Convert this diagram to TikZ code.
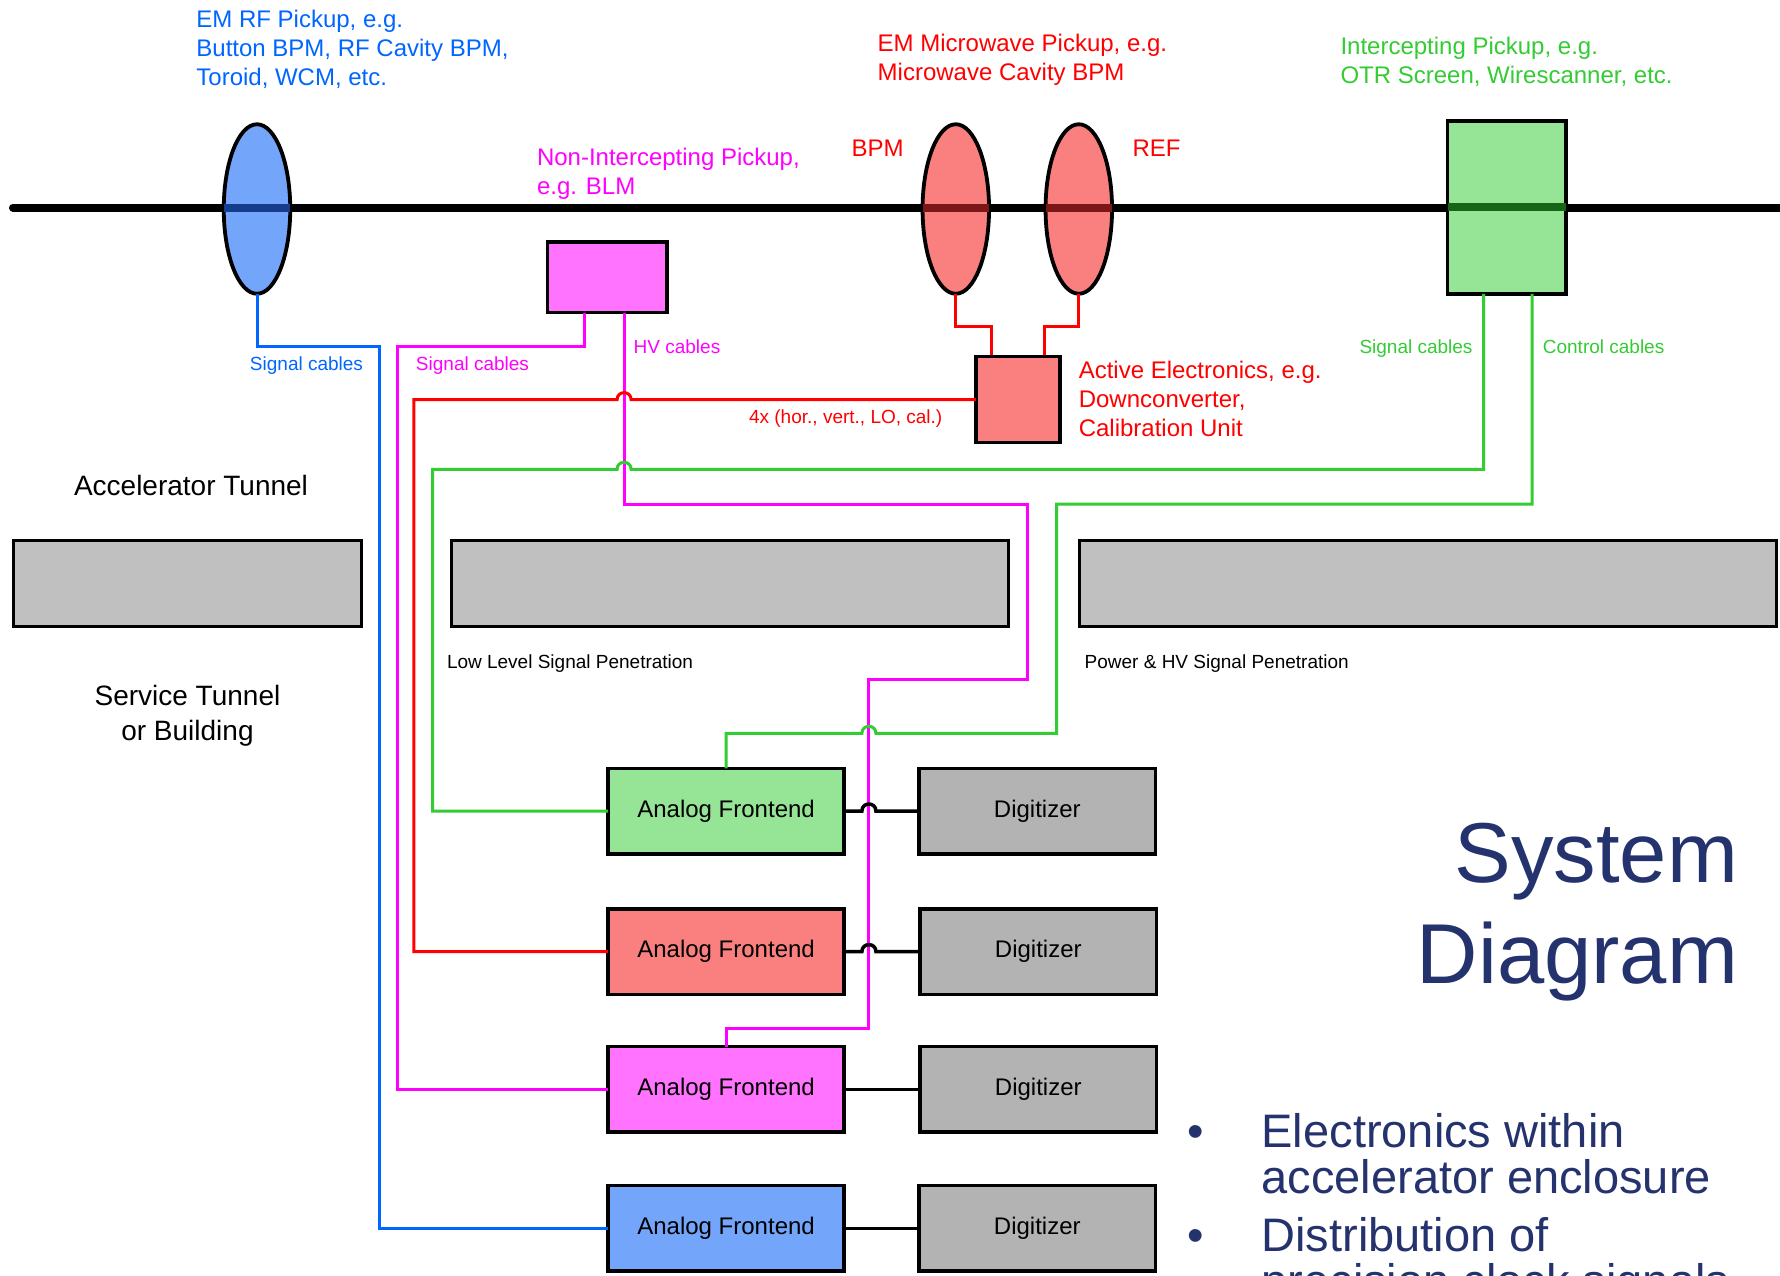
\documentclass[tikz,border=0pt]{standalone}
\usepackage{fontspec}
\setmainfont{Liberation Sans}
\usetikzlibrary{shapes.geometric}
\definecolor{cblue}{RGB}{0,102,255}
\definecolor{cred}{RGB}{255,0,0}
\definecolor{cmag}{RGB}{255,0,255}
\definecolor{cgreen}{RGB}{51,204,51}
\definecolor{fblue}{RGB}{115,165,250}
\definecolor{fred}{RGB}{250,128,128}
\definecolor{fmag}{RGB}{255,115,255}
\definecolor{fgreen}{RGB}{150,228,150}
\definecolor{dblue}{RGB}{22,60,140}
\definecolor{dred}{RGB}{125,22,22}
\definecolor{dgreen}{RGB}{22,100,22}
\definecolor{pgrey}{RGB}{192,192,192}
\definecolor{dgrey}{RGB}{179,179,179}
\definecolor{navy}{RGB}{36,50,110}
\begin{document}
\begin{tikzpicture}[x=1pt,y=-1pt,
  every node/.style={inner sep=0pt, outer sep=0pt},
  box/.style={draw=black, line width=3.5pt, rectangle, inner sep=0pt},
  afbox/.style={box, minimum width=236pt, minimum height=85.5pt, font=\fontsize{24}{29}\selectfont},
  digbox/.style={box, fill=dgrey, minimum width=236.5pt, minimum height=85.5pt, font=\fontsize{24}{29}\selectfont},
  penbox/.style={box, fill=pgrey, line width=3pt, minimum height=86pt},
  pickup/.style={ellipse, draw=black, line width=3.8pt, minimum width=66.5pt, minimum height=169.5pt},
  beamover/.style={line width=8pt},
  wire/.style={line width=3pt},
  blk/.style={line width=3.5pt, black},
  lbl/.style={font=\fontsize{19}{23}\selectfont},
  big/.style={font=\fontsize{24}{29}\selectfont, align=left},
]
\useasboundingbox (0,0) rectangle (1780,1275);
\fill[white] (0,0) rectangle (1780,1275);
\clip (0,0) rectangle (1780,1275);

% beam line
\draw[line width=8pt, line cap=round] (13,207.5) -- (1795,207.5);

% pickups
\node[pickup, fill=fblue] (bpk) at (257,209) {};
\node[pickup, fill=fred] (rpk1) at (955.8,209) {};
\node[pickup, fill=fred] (rpk2) at (1078.8,209) {};
\node[box, fill=fgreen, minimum width=118.4pt, minimum height=173pt] (gpk) at (1506.85,207.35) {};
% beam seen through the pickups
\draw[beamover, dblue] ([yshift=1.5pt]bpk.west) -- ([yshift=1.5pt]bpk.east);
\draw[beamover, dred] ([yshift=1.5pt]rpk1.west) -- ([yshift=1.5pt]rpk1.east);
\draw[beamover, dred] ([yshift=1.5pt]rpk2.west) -- ([yshift=1.5pt]rpk2.east);
\draw[beamover, dgreen] (gpk.west) -- (gpk.east);

\node[box, fill=fmag, minimum width=119.8pt, minimum height=70.8pt] (blm) at (607.15,277.15) {};
\node[box, fill=fred, minimum width=84pt, minimum height=86pt] (ae) at (1017.8,399.65) {};

% penetrations
\node[penbox, minimum width=348.6pt] (pen1) at (187.5,583) {};
\node[penbox, minimum width=557.2pt] (pen2) at (729.6,583) {};
\node[penbox, minimum width=697pt] (pen3) at (1428,583) {};

% analog frontends and digitizers
\node[afbox, fill=fgreen] (afg) at (726.1,811) {Analog Frontend};
\node[afbox, fill=fred] (afr) at (726.1,951.6) {Analog Frontend};
\node[afbox, fill=fmag] (afm) at (726.1,1089.4) {Analog Frontend};
\node[afbox, fill=fblue] (afb) at (726.1,1228.4) {Analog Frontend};
\node[digbox] (dg1) at (1037.3,811) {Digitizer};
\node[digbox] (dg2) at (1038.3,951.6) {Digitizer};
\node[digbox] (dg3) at (1038.3,1089.4) {Digitizer};
\node[digbox] (dg4) at (1037.3,1228.4) {Digitizer};

% magenta cables (drawn first; others jump over)
\draw[wire, cmag] ([xshift=-22.3pt]blm.south) |- (397.3,346.7) |- (afm.west);
\draw[wire, cmag] ([xshift=17pt]blm.south) |- (1027,504) |- (868.9,679) -- (868.9,1028.4) -| (afm.north);

% blue cable
\draw[wire, cblue] (bpk.south) |- (379.5,346.7) |- (afb.west);

% red cables
\draw[wire, cred] (rpk1.south) |- (991.3,326.7) -- (991.3,355);
\draw[wire, cred] (rpk2.south) |- (1044.4,326.7) -- (1044.4,355);
\draw[wire, cred] (ae.west) -- (631.1,399.65) .. controls (631.1,390.3) and (617.1,390.3) .. (617.1,399.65) -- (413.8,399.65) |- (afr.west);

% green cables
\draw[wire, cgreen] ([xshift=-23.15pt]gpk.south) |- (631.1,469.3) .. controls (631.1,460) and (617.1,460) .. (617.1,469.3) -- (432.7,469.3) |- (afg.west);
\draw[wire, cgreen] ([xshift=25.15pt]gpk.south) |- (1056.6,504) |- (875.9,733.3) .. controls (875.9,724) and (861.9,724) .. (861.9,733.3) -| (afg.north);

% frontend to digitizer
\draw[blk] (afg.east) -- (861.9,811) .. controls (861.9,801.7) and (875.9,801.7) .. (875.9,811) -- (dg1.west);
\draw[blk] (afr.east) -- (861.9,951.6) .. controls (861.9,942.3) and (875.9,942.3) .. (875.9,951.6) -- (dg2.west);
\draw[blk] (afm.east) -- (dg3.west);
\draw[blk] (afb.east) -- (dg4.west);

% labels (base anchor = baseline of the last line)
\node[big, text=cblue, anchor=base west] (t1) at (196.4,85.3) {EM RF Pickup, e.g.\\Button BPM, RF Cavity BPM,\\Toroid, WCM, etc.};
\node[big, text=cred, anchor=base west] (t2) at (877.7,80.7) {EM Microwave Pickup, e.g.\\Microwave Cavity BPM};
\node[big, text=cgreen, anchor=base west] (t3) at (1340.5,83.3) {Intercepting Pickup, e.g.\\OTR Screen, Wirescanner, etc.};
\node[big, text=cmag, anchor=base west] (t4) at (537,194.6) {Non-Intercepting Pickup,\\e.g. BLM};
\node[big, text=cred, anchor=base west] (t5) at (851.5,156.3) {BPM};
\node[big, text=cred, anchor=base west] (t6) at (1132.5,156.3) {REF};
\node[big, text=cred, anchor=base west] (t7) at (1078.8,436.6) {Active Electronics, e.g.\\Downconverter,\\Calibration Unit};

\node[lbl, text=cblue, anchor=base] (l1) at (306.5,370.8) {Signal cables};
\node[lbl, text=cmag, anchor=base] (l2) at (472.5,370.8) {Signal cables};
\node[lbl, text=cmag, anchor=base] (l3) at (677,353.5) {HV cables};
\node[lbl, text=cgreen, anchor=base] (l4) at (1416,353.5) {Signal cables};
\node[lbl, text=cgreen, anchor=base] (l5) at (1603.6,353.5) {Control cables};
\node[lbl, text=cred, anchor=base] (l6) at (845.7,423.5) {4x (hor., vert., LO, cal.)};
\node[lbl, anchor=base west] (l7) at (447,668.5) {Low Level Signal Penetration};
\node[lbl, anchor=base west] (l8) at (1084.7,668.5) {Power \& HV Signal Penetration};

\node[font=\fontsize{28}{35}\selectfont, anchor=base] (acc) at (191,495) {Accelerator Tunnel};
\node[font=\fontsize{28}{35}\selectfont, align=center, anchor=base] (svc) at (187.5,740) {Service Tunnel\\or Building};

% title and bullets
\node[font=\fontsize{85}{101.6}\selectfont, text=navy, align=right, anchor=base east] (title) at (1738,983.6) {System\\Diagram};
\node[font=\fontsize{47}{45.7}\selectfont, text=navy, anchor=base] (bu1) at (1196,1147.7) {•};
\node[font=\fontsize{47}{45.7}\selectfont, text=navy, align=left, anchor=base west] (b1) at (1261.6,1193.4) {Electronics within\\accelerator enclosure};
\node[font=\fontsize{47}{45.7}\selectfont, text=navy, anchor=base] (bu2) at (1196,1251.7) {•};
\node[font=\fontsize{47}{45.7}\selectfont, text=navy, align=left, anchor=base west] (b2) at (1261.6,1297.4) {Distribution of\\precision clock signals};
\end{tikzpicture}
\end{document}
